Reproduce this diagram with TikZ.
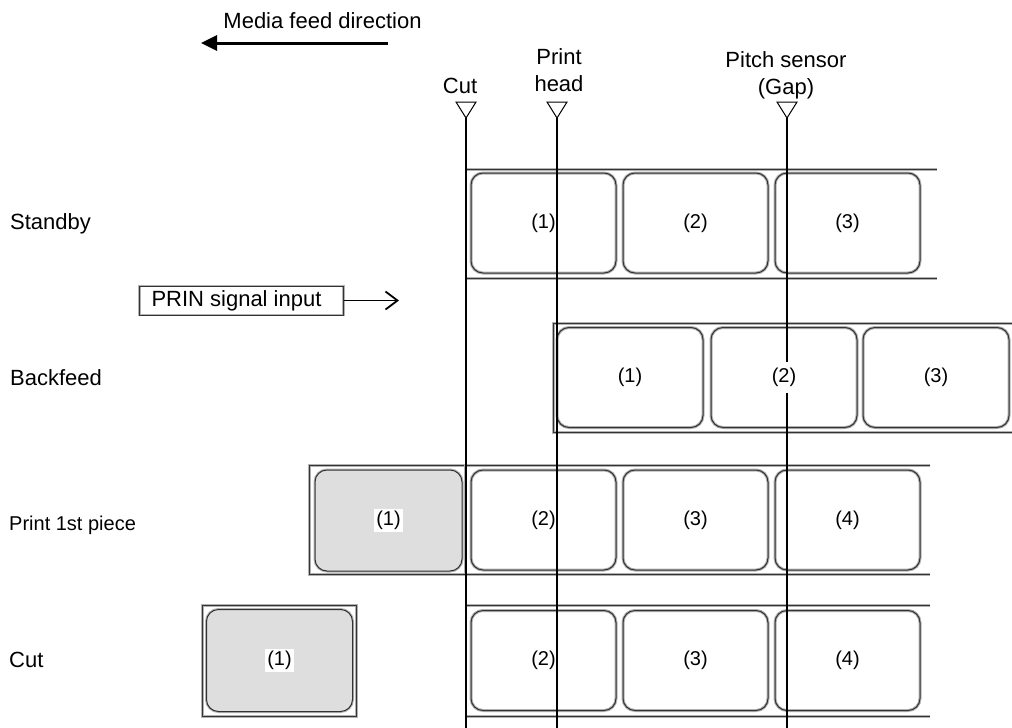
\documentclass[tikz,border=0pt]{standalone}
\usepackage{fontspec}
\setmainfont{Liberation Sans}
\usetikzlibrary{arrows.meta}
\begin{document}
\begin{tikzpicture}[x=1pt,y=-1pt,
  every node/.style={font=\fontsize{22}{27}\selectfont, inner sep=0pt},
  lab/.style={rectangle, rounded corners=12pt, draw=black!80, line width=1pt,
    preaction={draw=black!30, line width=3pt},
    minimum width=145pt, minimum height=100pt, font=\fontsize{20}{24}\selectfont},
  graylab/.style={lab, fill=black!13},
  frame/.style={draw=black!80, line width=1pt, preaction={draw=black!30, line width=3pt}},
  sensor/.style={draw=black, line width=1.3pt},
  tri/.style={draw=black, line width=1pt, fill=white},
  num/.style={fill=white, inner xsep=2pt, inner ysep=2pt, font=\fontsize{20}{24}\selectfont}
]
\useasboundingbox (0,0) rectangle (1012,728);

% top legend
\node[anchor=base] (mfd) at (322.5,28) {Media feed direction};
\coordinate (mfs) at (388,43);
\coordinate (mfe) at (201,43);
\draw[line width=3pt, -{Triangle[length=16pt,width=15pt]}] (mfs) -- (mfe);

% sensor labels
\node[anchor=base] (cutl) at (460,93) {Cut};
\node[align=center, anchor=south] (phl) at (559,92) {Print\\head};
\node[align=center, anchor=south] (psl) at (786,99) {Pitch sensor\\(Gap)};

% row labels
\node[anchor=base west] (rs) at (10,229) {Standby};
\node[anchor=base west] (rb) at (10,385) {Backfeed};
\node[anchor=base west, font=\fontsize{20}{24}\selectfont] (rp) at (9,530) {Print 1st piece};
\node[anchor=base west] (rc) at (9,667) {Cut};

% Standby row
\draw[frame] (465,169) -- (937,169);
\draw[frame] (465,278) -- (937,278);
\node[lab] (s1) at (543.5,223) {(1)};
\node[lab] (s2) at (695.5,223) {(2)};
\node[lab] (s3) at (847.5,223) {(3)};

% PRIN signal
\node[draw=black!80, line width=1pt, preaction={draw=black!30, line width=2.5pt},
  anchor=west, minimum height=29pt] (prin) at (139,300.5) {\kern12pt PRIN signal input\kern22pt};
\coordinate (prinend) at (399,300.5);
\draw[line width=1.8pt, -{Straight Barb[length=12pt,width=18pt]}] (prin.east) -- (prinend);

% Backfeed row
\draw[frame] (1012,323) -- (553,323) -- (553,432) -- (1012,432);
\node[lab, minimum width=146pt] (b1) at (630,377.5) {(1)};
\node[lab, minimum width=146pt] (b2) at (784,377.5) {};
\node[lab, minimum width=146pt] (b3) at (936,377.5) {(3)};

% Print 1st piece row
\draw[frame] (930,465) -- (309,465) -- (309,574) -- (930,574);
\draw[frame] (465,465) -- (465,574);
\node[graylab, minimum width=147pt, minimum height=101pt] (p1) at (388.5,520.5) {};
\node[num] (p1l) at (p1) {(1)};
\node[lab] (p2) at (543.5,520) {(2)};
\node[lab] (p3) at (695.5,520) {(3)};
\node[lab] (p4) at (847.5,520) {(4)};

% Cut row
\draw[frame] (202,605) rectangle (356,716);
\node[graylab, minimum width=146pt, minimum height=102pt] (c1) at (279.5,660.5) {};
\node[num] (c1l) at (c1) {(1)};
\draw[frame] (465,605) -- (930,605);
\draw[frame] (465,716) -- (930,716);
\node[lab] (c2) at (543.5,660.5) {(2)};
\node[lab] (c3) at (695.5,660.5) {(3)};
\node[lab] (c4) at (847.5,660.5) {(4)};

% sensors
\draw[tri] (456,102) -- (476,102) -- (466,118) -- cycle;
\draw[tri] (547,102) -- (567,102) -- (557,118) -- cycle;
\draw[tri] (777,102) -- (797,102) -- (787,118) -- cycle;
\coordinate (cuttop) at (466,118);
\coordinate (cutbot) at (466,728);
\coordinate (phtop) at (557,118);
\coordinate (phbot) at (557,728);
\coordinate (pstop) at (787,118);
\coordinate (psbot) at (787,728);
\draw[sensor] (cuttop) -- (cutbot);
\draw[sensor] (phtop) -- (phbot);
\draw[sensor] (pstop) -- (psbot);

\node[num, inner xsep=1pt, inner ysep=6pt] (b2l) at (b2) {(2)};
\end{tikzpicture}
\end{document}
